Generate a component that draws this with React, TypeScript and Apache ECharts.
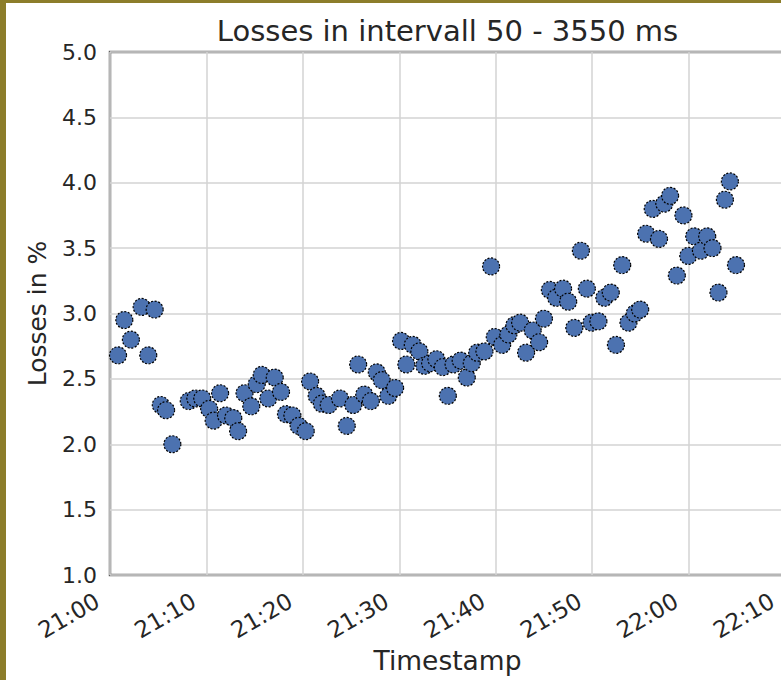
import React, { useEffect, useRef } from "react";
import * as echarts from "echarts";

const titleText = "Losses in intervall 50 - 3550 ms";
const xAxisName = "Timestamp";
const yAxisName = "Losses in %";

const times = [
  "21:00:50", "21:01:29", "21:02:10", "21:03:17", "21:03:58", "21:04:38", "21:05:16", "21:05:49", "21:06:28", "21:08:10",
  "21:08:51", "21:09:34", "21:10:17", "21:10:45", "21:11:25", "21:12:02", "21:12:47", "21:13:17", "21:13:57", "21:14:39",
  "21:15:13", "21:15:44", "21:16:25", "21:17:05", "21:17:44", "21:18:15", "21:18:55", "21:19:34", "21:20:18", "21:20:45",
  "21:21:26", "21:21:58", "21:22:41", "21:23:51", "21:24:33", "21:25:14", "21:25:44", "21:26:22", "21:27:03", "21:27:40",
  "21:28:11", "21:28:52", "21:29:34", "21:30:11", "21:30:44", "21:31:24", "21:32:05", "21:32:36", "21:33:12", "21:33:51",
  "21:34:31", "21:35:02", "21:35:38", "21:36:22", "21:37:00", "21:37:31", "21:38:05", "21:38:50", "21:39:31", "21:39:54",
  "21:40:40", "21:41:19", "21:41:56", "21:42:32", "21:43:09", "21:43:50", "21:44:30", "21:45:00", "21:45:37", "21:46:16",
  "21:46:59", "21:47:31", "21:48:09", "21:48:50", "21:49:27", "21:49:56", "21:50:39", "21:51:16", "21:51:56", "21:52:28",
  "21:53:07", "21:53:46", "21:54:25", "21:54:59", "21:55:36", "21:56:17", "21:56:56", "21:57:29", "21:58:05", "21:58:47",
  "21:59:28", "21:59:58", "22:00:35", "22:01:17", "22:01:56", "22:02:29", "22:03:06", "22:03:46", "22:04:17", "22:04:55",
];

const losses = [
  2.68, 2.95, 2.80, 3.05, 2.68, 3.03, 2.30, 2.26, 2.00, 2.33,
  2.35, 2.35, 2.27, 2.18, 2.39, 2.22, 2.20, 2.10, 2.39, 2.29,
  2.46, 2.53, 2.35, 2.51, 2.40, 2.23, 2.22, 2.14, 2.10, 2.48,
  2.37, 2.31, 2.30, 2.35, 2.14, 2.30, 2.61, 2.38, 2.33, 2.55,
  2.49, 2.37, 2.43, 2.79, 2.61, 2.76, 2.71, 2.60, 2.62, 2.65,
  2.59, 2.37, 2.61, 2.64, 2.51, 2.62, 2.70, 2.71, 3.36, 2.82,
  2.76, 2.84, 2.91, 2.93, 2.70, 2.87, 2.78, 2.96, 3.18, 3.12,
  3.19, 3.09, 2.89, 3.48, 3.19, 2.93, 2.94, 3.12, 3.16, 2.76,
  3.37, 2.93, 3.00, 3.03, 3.61, 3.80, 3.57, 3.84, 3.90, 3.29,
  3.75, 3.44, 3.59, 3.48, 3.59, 3.50, 3.16, 3.87, 4.01, 3.37,
];

const xTickLabels = ["21:00", "21:10", "21:20", "21:30", "21:40", "21:50", "22:00", "22:10"];
const yMin = 1.0;
const yMax = 5.0;
const yStep = 0.5;
const xStepMinutes = 10;

const FONT = "DejaVu Sans";
const TEXT = "#262626";

function toMinutes(t: string): number {
  const p = t.split(":").map(Number);
  return p[0] * 60 + p[1] + (p[2] || 0) / 60;
}

export default function App() {
  const ref = useRef<HTMLDivElement>(null);

  useEffect(() => {
    document.body.style.margin = "0";
    if (!ref.current) return;
    const chart = echarts.init(ref.current, undefined, { renderer: "svg" });
    const x0 = toMinutes(xTickLabels[0]);
    const x1 = toMinutes(xTickLabels[xTickLabels.length - 1]);
    const data = times.map((t, i) => [toMinutes(t), losses[i]]);

    const baseGraphic: any[] = [
      {
        type: "text",
        x: 447.5,
        y: 16,
        style: {
          text: titleText,
          fontFamily: FONT,
          fontSize: 29,
          fill: TEXT,
          textAlign: "center",
          textVerticalAlign: "top",
        },
      },
      { type: "rect", shape: { x: 0, y: 0, width: 6, height: 680 }, style: { fill: "#8c7d2a" }, z: 100 },
      { type: "rect", shape: { x: 0, y: 0, width: 781, height: 3 }, style: { fill: "#8c7d2a" }, z: 100 },
    ];

    chart.setOption({
      animation: false,
      backgroundColor: "#ffffff",
      graphic: baseGraphic,
      grid: {
        left: 110,
        top: 52,
        right: -4,
        bottom: 105,
        outerBoundsMode: "none",
        containLabel: false,
        show: true,
        borderColor: "#606060",
        borderWidth: 2.5,
        backgroundColor: "transparent",
      },
      xAxis: {
        type: "value",
        min: x0,
        max: x1,
        interval: xStepMinutes,
        name: xAxisName,
        nameLocation: "middle",
        nameGap: 72,
        nameTextStyle: { fontFamily: FONT, fontSize: 26.5, color: TEXT },
        axisLine: { show: false },
        axisTick: { show: false },
        axisLabel: { show: false },
        splitLine: { show: true, lineStyle: { color: "#d3d3d3", width: 1.5 } },
      },
      yAxis: {
        type: "value",
        min: yMin,
        max: yMax,
        interval: yStep,
        name: yAxisName,
        nameLocation: "middle",
        nameGap: 60,
        nameTextStyle: { fontFamily: FONT, fontSize: 25, color: TEXT },
        axisLine: { show: false },
        axisTick: { show: false },
        axisLabel: {
          margin: 13,
          fontFamily: FONT,
          fontSize: 22,
          color: TEXT,
          formatter: (v: number) => v.toFixed(1),
        },
        splitLine: { show: true, lineStyle: { color: "#d3d3d3", width: 1.5 } },
      },
      series: [
        {
          type: "scatter",
          data,
          symbol: "circle",
          symbolSize: 17,
          itemStyle: {
            color: "#4c72b0",
            borderColor: "#000000",
            borderWidth: 1.2,
            borderType: [2, 1.6],
            opacity: 1,
          },
          emphasis: { disabled: true },
        },
      ],
    });

    // rotated x tick labels placed at the axis' own tick positions
    const axisY = chart.convertToPixel({ yAxisIndex: 0 }, yMin) as number;
    const labels = xTickLabels.map((lab) => {
      const px = chart.convertToPixel({ xAxisIndex: 0 }, toMinutes(lab)) as number;
      return {
        type: "text",
        x: px - 12.5,
        y: axisY + 24,
        rotation: Math.PI / 6,
        style: {
          text: lab,
          fontFamily: FONT,
          fontSize: 23,
          fill: TEXT,
          textAlign: "right",
          textVerticalAlign: "middle",
        },
      };
    });
    chart.setOption({ graphic: [...baseGraphic, ...labels] });

    return () => {
      chart.dispose();
    };
  }, []);

  return <div ref={ref} style={{ width: 781, height: 680 }} />;
}
